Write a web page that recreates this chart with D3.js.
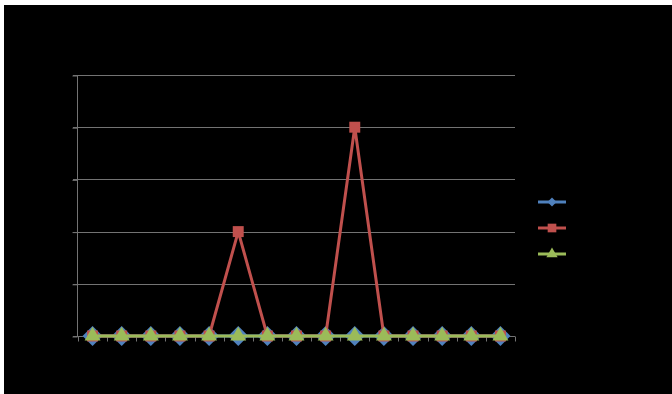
<!DOCTYPE html>
<html>
<head>
<meta charset="utf-8">
<script src="https://cdn.jsdelivr.net/npm/d3@7"></script>
<style>
  body { margin: 0; background: #fff; }
</style>
</head>
<body>
<script>
var categories = [1, 2, 3, 4, 5, 6, 7, 8, 9, 10, 11, 12, 13, 14, 15];
var seriesA = [0, 0, 0, 0, 0, 0, 0, 0, 0, 0, 0, 0, 0, 0, 0];
var seriesB = [0, 0, 0, 0, 0, 2, 0, 0, 0, 4, 0, 0, 0, 0, 0];
var seriesC = [0, 0, 0, 0, 0, 0, 0, 0, 0, 0, 0, 0, 0, 0, 0];
var yTicks = [0, 1, 2, 3, 4, 5];

var W = 672, H = 394;
var plot = {left: 78, right: 515, top: 75, bottom: 336};

var svg = d3.select("body").append("svg")
    .attr("width", W).attr("height", H);

// black chart area, thin white strip on top and left
svg.append("rect").attr("x", 4).attr("y", 5)
    .attr("width", W - 4).attr("height", H - 5).attr("fill", "#000");

var x = d3.scaleBand().domain(categories).range([plot.left, plot.right]);
var y = d3.scaleLinear().domain([0, 5]).range([plot.bottom, plot.top]);
var cx = function(d, i){ return x(categories[i]) + x.bandwidth() / 2; };

// square diamond like the spreadsheet marker
var squareDiamond = {
  draw: function(ctx, size){
    var r = Math.sqrt(size / 2);
    ctx.moveTo(0, -r); ctx.lineTo(r, 0); ctx.lineTo(0, r); ctx.lineTo(-r, 0); ctx.closePath();
  }
};

var gridColor = "#737373";

// gridlines
svg.selectAll(".grid").data(yTicks.slice(1)).enter().append("line")
    .attr("x1", plot.left - 5).attr("x2", plot.right)
    .attr("y1", function(d){ return Math.round(y(d)) + 0.5; })
    .attr("y2", function(d){ return Math.round(y(d)) + 0.5; })
    .attr("stroke", gridColor).attr("stroke-width", 1);

// y axis
var yAxis = svg.append("g")
    .attr("transform", "translate(" + (plot.left - 0.5) + ",0.5)")
    .call(d3.axisLeft(y).tickValues(yTicks).tickSize(5).tickFormat(""));
yAxis.selectAll("path, line").attr("stroke", gridColor);
yAxis.select(".domain").attr("d", "M0," + plot.top + "V" + plot.bottom);

// x axis with ticks between categories
var xAxis = svg.append("g")
    .attr("transform", "translate(0," + (Math.round(y(0)) + 0.5) + ")");
xAxis.append("line").attr("x1", plot.left - 5).attr("x2", plot.right)
    .attr("stroke", gridColor);
xAxis.selectAll(".xt").data(categories.concat(["end"])).enter().append("line")
    .attr("x1", function(d, i){ return Math.round(plot.left + i * x.step()) + 0.5; })
    .attr("x2", function(d, i){ return Math.round(plot.left + i * x.step()) + 0.5; })
    .attr("y1", 0).attr("y2", 5)
    .attr("stroke", gridColor);

var series = [
  {values: seriesA, color: "#4f81bd", shape: squareDiamond, size: 200, lsize: 40},
  {values: seriesB, color: "#c0504d", shape: d3.symbolSquare, size: 120, lsize: 75},
  {values: seriesC, color: "#9bbb59", shape: d3.symbolTriangle, size: 110, lsize: 55}
];

var line = d3.line().x(cx).y(function(d){ return y(d); });

series.forEach(function(s){
  svg.append("path").datum(s.values)
      .attr("d", line).attr("fill", "none")
      .attr("stroke", s.color).attr("stroke-width", 3)
      .attr("stroke-linejoin", "round");
  svg.selectAll(null).data(s.values).enter().append("path")
      .attr("d", d3.symbol().type(s.shape).size(s.size))
      .attr("transform", function(d, i){ return "translate(" + cx(d, i) + "," + y(d) + ")"; })
      .attr("fill", s.color);
});

// legend
var legend = svg.selectAll(".legend").data(series).enter().append("g")
    .attr("transform", function(d, i){ return "translate(552," + (202 + i * 26) + ")"; });
legend.append("line").attr("x1", -14).attr("x2", 14)
    .attr("stroke", function(d){ return d.color; }).attr("stroke-width", 3);
legend.append("path")
    .attr("d", function(d){ return d3.symbol().type(d.shape).size(d.lsize)(); })
    .attr("fill", function(d){ return d.color; });
</script>
</body>
</html>
